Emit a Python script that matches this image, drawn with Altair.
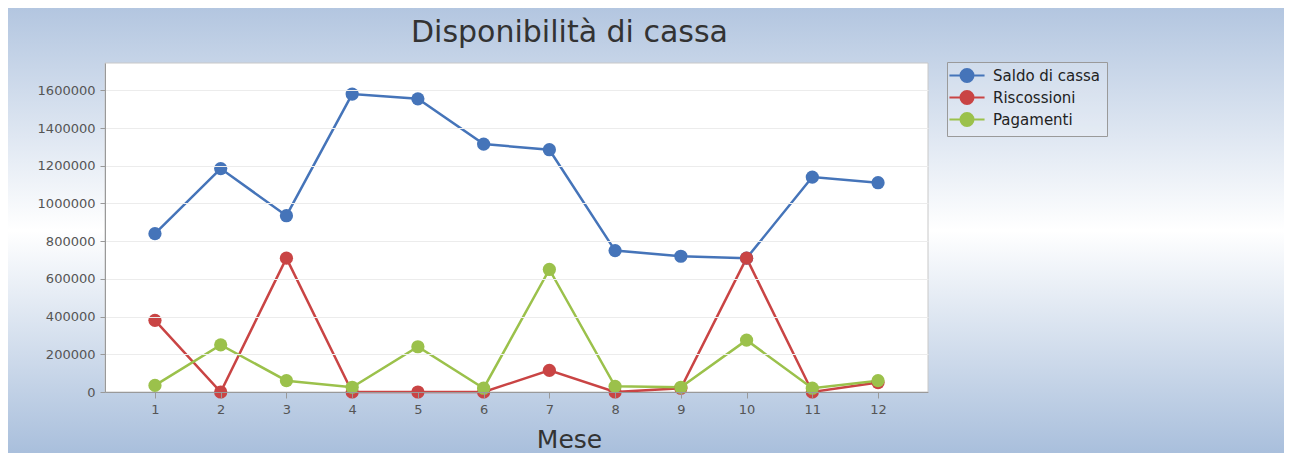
import altair as alt
import pandas as pd

mesi = list(range(1, 13))
serie = ["Saldo di cassa", "Riscossioni", "Pagamenti"]
saldo = [840000, 1185000, 935000, 1580000, 1555000, 1315000, 1285000, 750000, 720000, 710000, 1140000, 1110000]
riscossioni = [380000, 0, 710000, 0, 0, 0, 115000, 0, 20000, 710000, 0, 50000]
pagamenti = [35000, 250000, 60000, 25000, 240000, 20000, 650000, 30000, 25000, 275000, 20000, 60000]
colori = ["#4574b9", "#c94444", "#9bc14b"]
y_ticks = [0, 200000, 400000, 600000, 800000, 1000000, 1200000, 1400000, 1600000]

rows = []
for nome, vals in zip(serie, [saldo, riscossioni, pagamenti]):
    for m, v in zip(mesi, vals):
        rows.append({"Mese": m, "Serie": nome, "Valore": v})
df = pd.DataFrame(rows)

W, H = 823, 329
PL, PT, PR, PB = 97, 55, 356, 61

bg = alt.Chart(pd.DataFrame({"a": [0]})).mark_rect(
    color=alt.LinearGradient(
        gradient="linear", x1=0, x2=0, y1=0, y2=1,
        stops=[alt.GradientStop(offset=0, color="#b3c6e0"),
               alt.GradientStop(offset=0.5, color="#ffffff"),
               alt.GradientStop(offset=1, color="#a9bfdc")])
).encode(x=alt.value(-PL), x2=alt.value(W + PR), y=alt.value(-PT), y2=alt.value(H + PB))

plotbg = alt.Chart(pd.DataFrame({"a": [0]})).mark_rect(
    fill="white", stroke="#c8c8c8", strokeWidth=1
).encode(x=alt.value(0), x2=alt.value(W), y=alt.value(0), y2=alt.value(H))

xenc = alt.X("Mese:Q", scale=alt.Scale(domain=[0.24, 12.76], nice=False, zero=False),
             axis=alt.Axis(values=mesi, format="d", grid=False, title="Mese",
                           titleFontSize=25, titleFontWeight="normal", titleColor="#333333",
                           titleX=464, titleY=47, titleBaseline="middle", titleAlign="center",
                           labelFontSize=13, labelColor="#555555", labelPadding=5,
                           tickColor="#999999", tickSize=6, domainColor="#999999", zindex=1))
yenc = alt.Y("Valore:Q", scale=alt.Scale(domain=[0, 1745000], nice=False),
             axis=alt.Axis(values=y_ticks, format="d", title=None, grid=True,
                           gridColor="#ececec", labelFontSize=13, labelColor="#555555",
                           labelPadding=5, tickColor="#999999", tickSize=5,
                           domainColor="#999999", zindex=1))
cenc = alt.Color("Serie:N", scale=alt.Scale(domain=serie, range=colori),
                 legend=alt.Legend(title=None, orient="none", legendX=842, legendY=-1,
                                   symbolType="M-1.7,0H3.7M0,0A1,1,0,1,1,2,0A1,1,0,1,1,0,0Z",
                                   symbolSize=169, symbolStrokeWidth=2, labelFontSize=15,
                                   labelColor="#222222", labelOffset=25, rowPadding=1,
                                   padding=6, strokeColor="#9a9a9a", fillColor="#ffffff30"))
order_enc = alt.Order("Mese:Q")

lines = alt.Chart(df).mark_line(strokeWidth=2.5).encode(x=xenc, y=yenc, color=cenc, order=order_enc)
points = alt.Chart(df).mark_circle(size=175, opacity=1).encode(x=xenc, y=yenc, color=cenc)

chart = alt.layer(bg, plotbg, lines, points).properties(
    width=W, height=H,
    title=alt.TitleParams("Disponibilità di cassa", anchor="middle", frame="group", dx=53, dy=40,
                          fontSize=30, font="DejaVu Sans", fontWeight="normal", color="#333333",
                          offset=0),
    autosize=alt.AutoSizeParams(type="none"),
    padding={"left": PL, "top": PT, "right": PR, "bottom": PB},
).configure(font="DejaVu Sans", background="white").configure_view(stroke=None)

chart.save("out.html", embed_options={"renderer": "svg", "actions": False})
